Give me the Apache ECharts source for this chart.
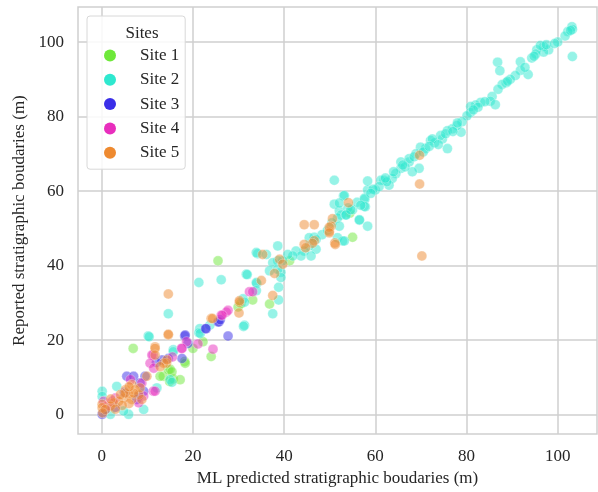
<!DOCTYPE html>
<html>
<head>
<meta charset="utf-8">
<script src="https://cdn.jsdelivr.net/npm/echarts@6/dist/echarts.min.js"></script>
<style>
  html, body { margin: 0; padding: 0; background: #fff; }
  #chart { width: 598px; height: 492px; }
</style>
</head>
<body>
<div id="chart"></div>
<script>
// [ML predicted, reported] in metres
var site1 = [[54.4,54.1],[55,47.6],[41.2,41.3],[25.5,41.3],[36.8,29.7],[33.1,30.8],[29.9,28.9],[24,15.6],[22.2,19.6],[20,17.8],[18.2,14.3],[6.9,17.8],[13.5,10.3],[14.9,8.9],[15.7,9.6],[14.6,12.1],[18.3,13.8],[15,12.2],[12.8,10.3],[17.2,9.4],[15.4,11.5],[30.5,29.8]];
var site2 = [[103.1,104.1],[103.2,103.4],[102.2,102.8],[101.6,101.6],[103.2,96.1],[100,100],[98,97.9],[96.9,98.8],[96.9,97.3],[95.4,97.9],[95.2,96.8],[94.3,95.7],[96.2,99.1],[86.8,94.6],[87.3,92.3],[91.8,94.7],[93.5,91.3],[91.8,92.4],[90.7,91],[89.6,90],[88.7,89.1],[87.8,88.6],[86.9,87.3],[85.6,85.4],[85.2,84.1],[86.3,83.2],[83.1,83.8],[82,83.1],[80.9,82.7],[80.9,81.1],[80.1,80.2],[79,78.6],[78.8,75.8],[77.9,77.6],[76.9,76.7],[75.8,76.2],[75.8,71.4],[74.7,74],[74.3,74.9],[75.4,75.4],[72.1,73.6],[71,71.4],[69.9,71.8],[68.9,70],[69.6,66.1],[68.1,65.2],[67.4,67.8],[67.4,68.7],[65.6,67.8],[65.6,66.1],[64.5,64.7],[63.7,63.4],[63,61.6],[61.9,62.9],[61.2,62.9],[60,60.3],[58.3,60.3],[58.3,62.7],[57.7,57.8],[57.8,55.8],[56.5,52.2],[58.3,50.6],[51,62.9],[53,58.7],[51,56.5],[52.1,54.7],[52.5,53.6],[51.7,52.8],[48.3,48.3],[51.7,47.5],[52.8,46.6],[46.6,47.6],
  [97.5,99.3],[94.8,96.2],[99.3,99.6],[102.8,103.1],[84,84],[82.5,82.5],[77,76],[73,73],[72.5,74],[70.5,70.5],[66.5,66.5],[62.5,62.5],[60.8,61.2],[59.5,60.5],[55,55],[54,55.5],[56,57],[49.5,49.5],[50.5,51.5],[53.5,53.6],[57.6,58.1],[57.6,55.9],[53.2,58.8],[52.1,56.8],[53.6,53.6],[56.5,52.3],[52.1,50.6],[53.2,46.6],[47,47],[45.5,47.5],
  [92.8,93.2],[89,89.5],[81.5,81.8],[78,78.3],[73.8,72.5],[71.8,72],[68.5,69.2],[66,67],[64,65.2],[62.2,63.5],[59,59.4],[56.8,56.2],[54.6,55],
  [47,44.4],[45.5,45.3],[44.4,43.9],[42.6,43.9],[43.7,42.6],[41.9,42.6],[40.8,43],[38.6,45.3],[34.2,43.2],[39.7,41.3],[38.6,41.3],[37.5,40.8],[45.9,42.6],[36.8,38.6],[39.3,38.2],[38.6,39],[38.8,34.2],[38.8,30.8],[37.5,27.1],[39.3,36.8],[36.1,43],[33.9,43.5],[31.7,37.7],[31.9,37.6],[34,35.2],[33.9,35.5],[33.9,33.3],[31,31.1],[31.3,30.2],[31.3,24],[31.1,23.7],[26.2,36.2],[21.3,35.5],[21.5,23.1],[21.3,22],[21.6,21.8],[23.7,24],[10.2,21.1],[10.4,20.9],[14.6,27.1],[15.7,17.4],[15.7,16.9],[15,9.4],[15.4,8.7],[12.1,7.2],[9.2,1.4],[5.9,0.1],[4.8,1],[1.9,0.1],[3.3,7.6],[0.1,6.3],[0.1,4.9]];
var site3 = [[18.2,21.1],[27.7,21.1],[25.5,24.9],[22.9,23.1],[18.9,19.1],[5.5,10.3],[18.3,21.4],[17.6,15.1],[14.6,15.1],[13.2,14.7],[7,10.3],[9.5,10.3],[8.4,8.5],[7.7,4.1],[9.2,6.3],[0.1,0.1],[0.8,1.4],[25.7,24.9],[22.8,23.1],[8.1,5],[26,25.5],[12,14],[3,2],[5,6]];
var site4 = [[24.4,17.6],[21.1,19],[17.5,17.8],[27.3,27.5],[26.2,26.7],[32.4,33],[33.1,33],[11.3,16],[11.3,6.3],[18.6,19.6],[17.6,17.8],[11,16],[10.6,13.8],[11.4,12.5],[11.7,6.3],[8.8,8.5],[6.3,9.4],[0.4,3.6],[1.2,2.3],[2.3,3.6],[9.2,5],[8.1,3.2],[27.7,28],[26.4,26.7],[15.5,15.5],[3,4.5]];
var site5 = [[44.4,51],[46.6,51],[50.6,52.6],[50.3,50.6],[54.1,56.9],[69.7,69.6],[69.7,61.9],[49.9,49.2],[51.1,46.1],[46.6,46.7],[70.2,42.6],[49.9,50.3],[49.9,48.8],[46.2,46],[44.4,45.7],[44.7,44.8],[51.2,45.7],[35.3,43],[39,41.7],[39.7,40.4],[37.9,37.9],[14.6,32.4],[14.6,21.4],[30.1,27.3],[30.2,30.2],[24,25.8],[37.5,32],[35,36],[11.7,18.2],[14.2,13.8],[14.6,21.6],[11.7,17.8],[11.7,16],[13.6,13.8],[14.3,14.7],[12.8,12.9],[9.9,10.3],[5.2,6.7],[6.6,8.1],[7.3,6.7],[5.9,5.4],[8.1,5.4],[4.8,4.5],[6.6,4.1],[3.7,3.6],[2.6,3.2],[1.9,2.3],[0.1,2.8],[0.1,1.9],[0.8,1.4],[8.4,7.2],[5.2,5.8],[4.1,5.4],[8.8,4.1],[30.2,30.6],[24.3,25.8],[6,3],[7,5.8],[4.5,2.5],[3,1.5],[0.2,0.5],[2,4.2],[6,7.5]];

var siteNames = ['Site 1', 'Site 2', 'Site 3', 'Site 4', 'Site 5'];
var siteData = [site1, site2, site3, site4, site5];
var siteColors = ['#6ee83a', '#2ee8cf', '#3a2ee8', '#e82ebd', '#ee8a30'];
var tickValues = [0, 20, 40, 60, 80, 100];

var chart = echarts.init(document.getElementById('chart'));
var font = 'Liberation Serif';
var textColor = '#262626';
var gridColor = '#cfcfcf';

var axisCommon = {
  type: 'value',
  nameLocation: 'middle',
  nameTextStyle: { fontFamily: font, fontSize: 17, color: textColor },
  axisLine: { show: false },
  axisTick: { show: false, customValues: tickValues },
  axisLabel: { customValues: tickValues, fontFamily: font, fontSize: 17, color: textColor, margin: 14 },
  splitLine: { show: true, lineStyle: { color: gridColor, width: 1.5 } }
};

chart.setOption({
  animation: false,
  backgroundColor: '#fff',
  title: {
    text: 'Sites',
    left: 137,
    top: 20,
    textAlign: 'center',
    textStyle: { fontFamily: font, fontSize: 17, fontWeight: 'normal', color: textColor }
  },
  legend: {
    data: siteNames,
    orient: 'vertical',
    left: 87,
    top: 16,
    padding: [31, 6, 8, 17],
    itemGap: 7.3,
    itemWidth: 12,
    itemHeight: 12,
    icon: 'circle',
    backgroundColor: 'rgba(255,255,255,0.85)',
    borderColor: '#d8d8d8',
    borderWidth: 1,
    borderRadius: 3,
    itemStyle: { opacity: 1, borderWidth: 0 },
    textStyle: { fontFamily: font, fontSize: 17, lineHeight: 17, color: textColor, padding: [0, 0, 0, 19] }
  },
  grid: {
    left: 78, right: 1, top: 7, bottom: 54,
    show: true, borderColor: gridColor, borderWidth: 1.5
  },
  xAxis: Object.assign({}, axisCommon, {
    min: -5.2, max: 108.6,
    name: 'ML predicted stratigraphic boudaries (m)',
    nameGap: 32
  }),
  yAxis: Object.assign({}, axisCommon, {
    min: -5.2, max: 109.4,
    name: 'Reported stratigraphic boudaries (m)',
    nameGap: 47
  }),
  series: siteData.map(function (d, i) {
    return {
      name: siteNames[i],
      type: 'scatter',
      data: d,
      symbolSize: 10,
      itemStyle: { color: siteColors[i], opacity: 0.5, borderColor: '#fff', borderWidth: 0.6 }
    };
  })
});
</script>
</body>
</html>
